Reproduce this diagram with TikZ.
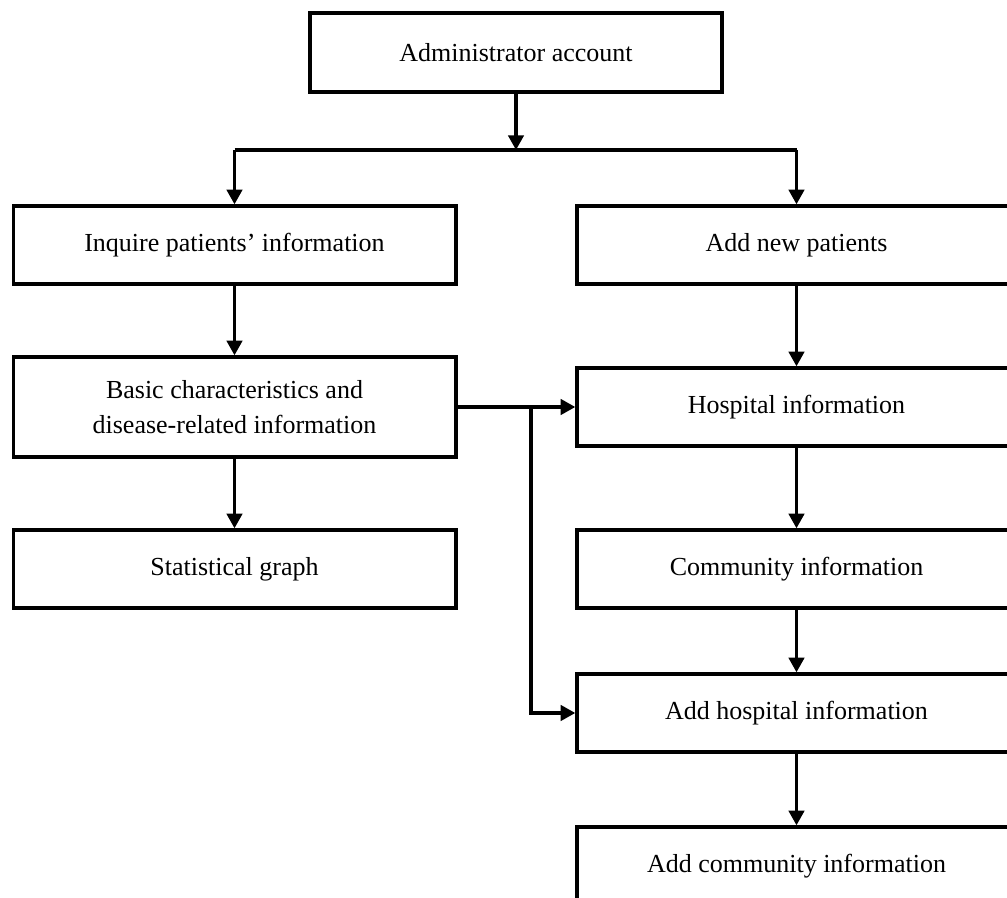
\documentclass[tikz,border=0pt]{standalone}
\usepackage{fontspec}
\setmainfont{Liberation Serif}
\usetikzlibrary{arrows.meta}
\begin{document}
\begin{tikzpicture}[x=0.75pt,y=-0.75pt,
  box/.style={draw, line width=2.5pt, inner sep=0pt, align=center,
    font=\fontsize{19.5}{26}\selectfont, minimum height=58.5pt},
  lbox/.style={box, minimum width=332pt},
  rbox/.style={box, minimum width=329.25pt},
  conn/.style={line width=2.5pt},
  arr/.style={conn, -{Triangle[length=11pt,width=11.5pt]}}]
\useasboundingbox[fill=white] (0,0) rectangle (1007,898);
\clip (0,0) rectangle (1007,898);
\node[box, line width=3pt, minimum width=309pt, minimum height=59.25pt] (admin) at (516,53) {Administrator account};
\node[lbox] (inquire) at (234.5,245) {Inquire patients’ information};
\node[rbox] (newp) at (796.5,245) {Add new patients};
\node[lbox, minimum height=75pt] (basic) at (234.5,407) {Basic characteristics and\\disease-related information};
\node[rbox] (hosp) at (796.5,407) {Hospital information};
\node[lbox] (stat) at (234.5,569) {Statistical graph};
\node[rbox] (comm) at (796.5,569) {Community information};
\node[rbox] (addh) at (796.5,713) {Add hospital information};
\node[rbox] (addc) at (796.5,866) {Add community information};
\coordinate (j) at (admin.south |- 0,150);
\coordinate (jl) at (inquire.north |- j);
\coordinate (jr) at (newp.north |- j);
\coordinate (b) at (531,407);
\draw[arr] (admin.south) -- (j);
\draw[conn] (jl) -- (jr);
\draw[arr] (jl) -- (inquire.north);
\draw[arr] (jr) -- (newp.north);
\draw[arr] (inquire) -- (basic);
\draw[arr] (basic) -- (stat);
\draw[arr] (newp) -- (hosp);
\draw[arr] (hosp) -- (comm);
\draw[arr] (comm) -- (addh);
\draw[arr] (addh) -- (addc);
\draw[arr] (basic.east) -- (hosp.west);
\draw[arr] (b) |- (addh.west);
\end{tikzpicture}
\end{document}
